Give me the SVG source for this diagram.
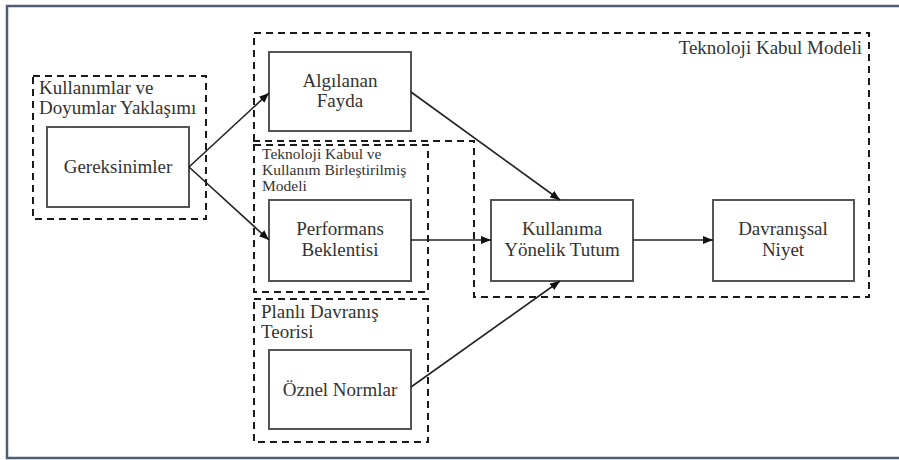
<svg xmlns="http://www.w3.org/2000/svg" width="899" height="460" viewBox="0 0 899 460">
<style>
.frame{fill:#fff;stroke:#4f5d70;stroke-width:2.5}
.grp{fill:none;stroke:#1a1a1a;stroke-width:2;stroke-dasharray:7,5}
.box{fill:#fff;stroke:#555;stroke-width:2}
.lbl{font-size:19px;fill:#333}
.sm{font-size:15.5px}
.c{text-anchor:middle}
.con{stroke:#222;stroke-width:1.6;fill:none;marker-end:url(#ah)}
</style>
<defs>
<marker id="ah" viewBox="0 0 10 8" refX="10" refY="4" markerWidth="10" markerHeight="8" markerUnits="userSpaceOnUse" orient="auto">
<path d="M0,0 L10,4 L0,8 z" fill="#111"/>
</marker>
</defs>
<rect class="frame" x="7" y="6" width="905" height="452"/>
<g font-family="Liberation Serif, DejaVu Serif, serif">
<g id="grp-tkm">
<path class="grp" d="M254,141 L254,33 L869,33 L869,297 L474,297 L474,141 Z"/>
<text class="lbl" x="862" y="54" text-anchor="end">Teknoloji Kabul Modeli</text>
</g>
<g id="grp-kd">
<rect class="grp" x="33" y="76" width="173" height="143"/>
<text class="lbl" x="39" y="94">Kullanımlar ve</text>
<text class="lbl" x="39" y="114">Doyumlar Yaklaşımı</text>
</g>
<g id="grp-utaut">
<rect class="grp" x="254" y="145" width="174" height="147"/>
<text class="lbl sm" x="262" y="159">Teknoloji Kabul ve</text>
<text class="lbl sm" x="262" y="175">Kullanım Birleştirilmiş</text>
<text class="lbl sm" x="262" y="191">Modeli</text>
</g>
<g id="grp-pdt">
<rect class="grp" x="254" y="299" width="174" height="143"/>
<text class="lbl" x="261" y="318">Planlı Davranış</text>
<text class="lbl" x="261" y="338">Teorisi</text>
</g>

<g id="n-gereksinimler">
<rect class="box" x="47" y="127" width="142" height="80"/>
<text class="lbl c" x="118" y="173">Gereksinimler</text>
</g>
<g id="n-algilanan">
<rect class="box" x="269" y="52" width="142" height="79"/>
<text class="lbl c" x="340" y="87">Algılanan</text>
<text class="lbl c" x="340" y="107">Fayda</text>
</g>
<g id="n-performans">
<rect class="box" x="269" y="200" width="142" height="81"/>
<text class="lbl c" x="340" y="235">Performans</text>
<text class="lbl c" x="340" y="256">Beklentisi</text>
</g>
<g id="n-oznel">
<rect class="box" x="269" y="350" width="142" height="79"/>
<text class="lbl c" x="340" y="396">Öznel Normlar</text>
</g>
<g id="n-tutum">
<rect class="box" x="491" y="200" width="142" height="81"/>
<text class="lbl c" x="562" y="235">Kullanıma</text>
<text class="lbl c" x="562" y="256">Yönelik Tutum</text>
</g>
<g id="n-niyet">
<rect class="box" x="713" y="200" width="141" height="81"/>
<text class="lbl c" x="783" y="235">Davranışsal</text>
<text class="lbl c" x="783" y="256">Niyet</text>
</g>
</g>
<g id="connectors">
<line class="con" x1="189" y1="167" x2="269" y2="93"/>
<line class="con" x1="189" y1="167" x2="269" y2="240"/>
<line class="con" x1="411" y1="92" x2="560" y2="200"/>
<line class="con" x1="411" y1="240" x2="491" y2="240"/>
<line class="con" x1="411" y1="387" x2="560" y2="281"/>
<line class="con" x1="633" y1="240" x2="713" y2="240"/>
</g>
</svg>
